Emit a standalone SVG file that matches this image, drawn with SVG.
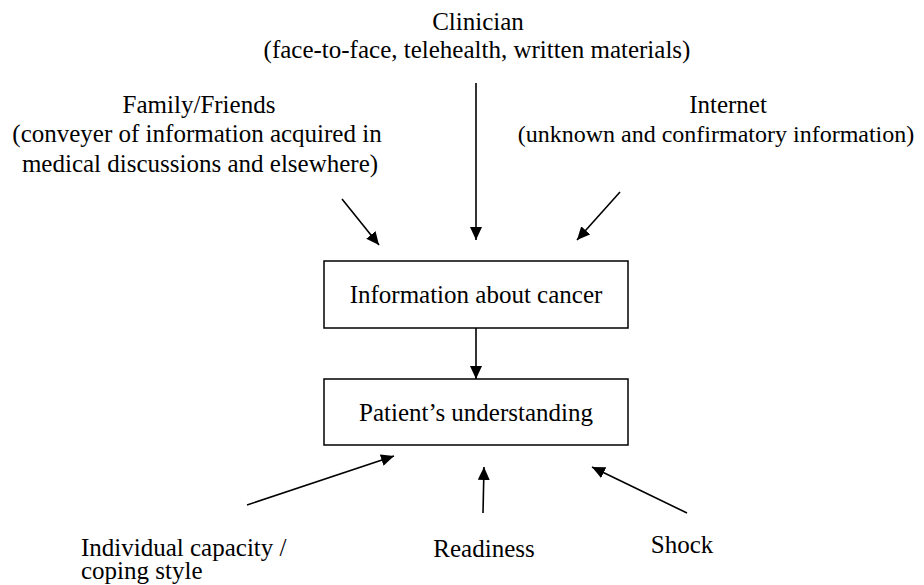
<svg xmlns="http://www.w3.org/2000/svg" width="924" height="585" viewBox="0 0 924 585">
<defs>
<marker id="ah" markerUnits="userSpaceOnUse" markerWidth="13" markerHeight="12" refX="13" refY="6" orient="auto">
<path d="M0,0 L13,6 L0,12 z" fill="#000"/>
</marker>
</defs>
<style>
text{font-size:25px;fill:#000}
.c{text-anchor:middle}
.box{fill:#fff;stroke:#000;stroke-width:1.5}
.conn line{stroke:#000;stroke-width:1.6;marker-end:url(#ah)}
</style>
<rect width="924" height="585" fill="#fff"/>
<g font-family="'Liberation Serif', 'Times New Roman', serif">
<g id="clinician"><text class="c" x="478" y="30">Clinician</text><text class="c" x="477" y="58">(face-to-face, telehealth, written materials)</text></g>
<g id="family"><text class="c" x="199" y="113">Family/Friends</text><text class="c" x="197" y="142">(conveyer of information acquired in</text><text class="c" x="200" y="172">medical discussions and elsewhere)</text></g>
<g id="internet"><text class="c" x="728" y="113">Internet</text><text class="c" x="716" y="142" style="font-size:24px">(unknown and confirmatory information)</text></g>
<g id="info"><rect class="box" x="324" y="261" width="304" height="67"/><text class="c" x="476" y="303">Information about cancer</text></g>
<g id="understanding"><rect class="box" x="324" y="379" width="304" height="66"/><text class="c" x="476" y="421">Patient’s understanding</text></g>
<g id="individual"><text x="81" y="556">Individual capacity /</text><text x="81" y="579">coping style</text></g>
<g id="readiness"><text class="c" x="484" y="557">Readiness</text></g>
<g id="shock"><text class="c" x="682" y="553">Shock</text></g>
</g>
<g class="conn" id="connectors">
<line x1="476" y1="83" x2="476" y2="240"/>
<line x1="342" y1="199" x2="379" y2="245"/>
<line x1="620" y1="192" x2="577" y2="240"/>
<line x1="476" y1="328" x2="476" y2="379"/>
<line x1="247" y1="505" x2="394" y2="456"/>
<line x1="483" y1="513" x2="484" y2="467"/>
<line x1="687" y1="513" x2="592" y2="467"/>
</g>
</svg>
